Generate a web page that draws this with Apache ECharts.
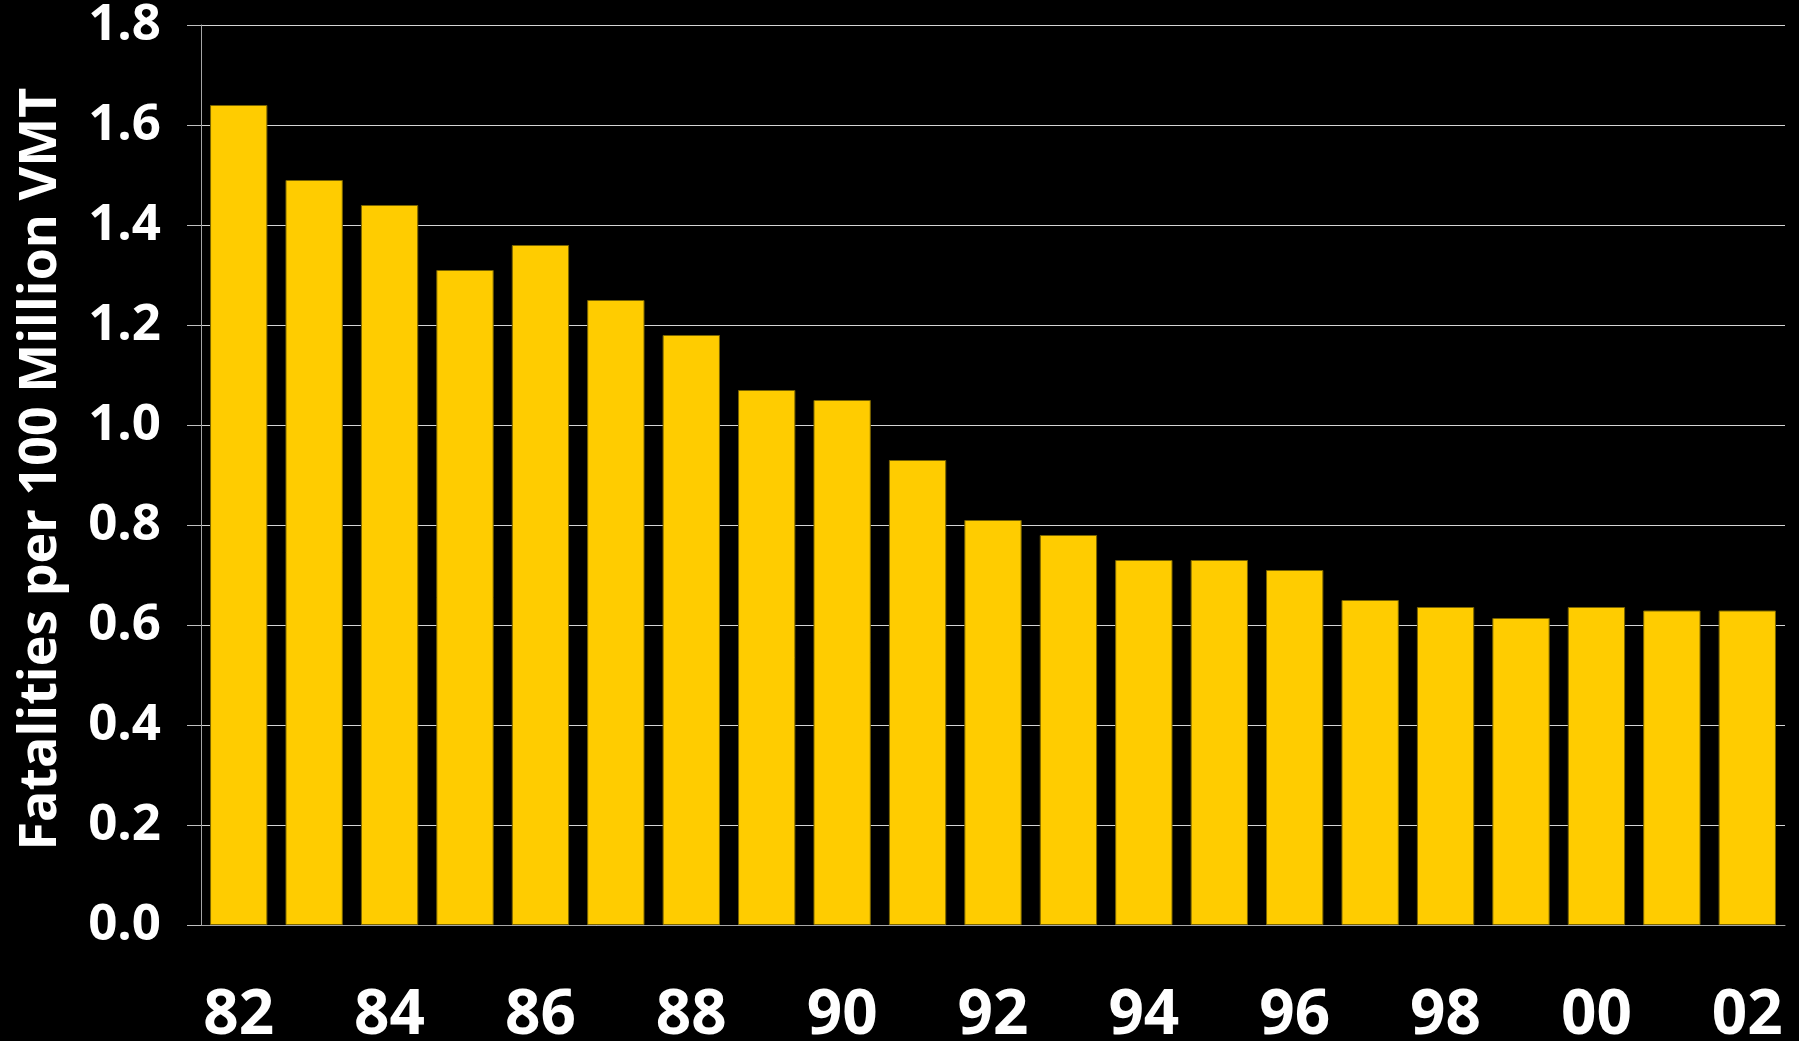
<!DOCTYPE html>
<html>
<head>
<meta charset="utf-8">
<script src="https://cdn.jsdelivr.net/npm/echarts@6/dist/echarts.min.js"></script>
<style>
  html, body { margin: 0; padding: 0; background: #000; }
  #chart { width: 1799px; height: 1041px; }
</style>
</head>
<body>
<div id="chart"></div>
<script>
// years 1982 - 2002
var years = ['82', '83', '84', '85', '86', '87', '88', '89', '90', '91', '92',
  '93', '94', '95', '96', '97', '98', '99', '00', '01', '02']
// fatalities per 100 million vehicle miles travelled
var rates = [1.64, 1.49, 1.44, 1.31, 1.36, 1.25, 1.18, 1.07, 1.05, 0.93, 0.81,
  0.78, 0.73, 0.73, 0.71, 0.65, 0.636, 0.614, 0.636, 0.629, 0.629]
var yTicks = ['0.0', '0.2', '0.4', '0.6', '0.8', '1.0', '1.2', '1.4', '1.6', '1.8']

var chart = echarts.init(document.getElementById('chart'))

var option = {
  backgroundColor: '#000',
  animation: false,
  grid: {
    left: 201,
    right: 14,
    top: 25,
    bottom: 116,
    outerBoundsMode: 'none',
    containLabel: false
  },
  xAxis: {
    type: 'category',
    data: years,
    axisLine: { lineStyle: { color: '#a6a6a6', width: 1 } },
    axisTick: {
      interval: 0,
      length: 18,
      lineStyle: { color: '#bfbfbf' }
    },
    axisLabel: {
      interval: 1,
      margin: 60,
      color: '#fff',
      fontFamily: 'Open Sans',
      fontWeight: 'bold',
      fontSize: 62
    }
  },
  yAxis: {
    type: 'value',
    min: 0,
    max: 1.8,
    interval: 0.2,
    name: 'Fatalities per 100 Million VMT',
    nameLocation: 'middle',
    nameGap: 134,
    nameTextStyle: {
      color: '#fff',
      fontFamily: 'Open Sans',
      fontWeight: 'bold',
      fontSize: 52,
      padding: [0, 0, 0, 12]
    },
    axisLine: { show: true, lineStyle: { color: '#a6a6a6', width: 1 } },
    axisTick: {
      show: true,
      length: 14,
      lineStyle: { color: '#bfbfbf' }
    },
    axisLabel: {
      margin: 40,
      color: '#fff',
      fontFamily: 'Open Sans',
      fontWeight: 'bold',
      fontSize: 51,
      formatter: function (v) {
        return yTicks[Math.round(v / 0.2)]
      }
    },
    splitLine: { lineStyle: { color: '#d4d4d4', width: 1 } }
  },
  series: [
    {
      type: 'bar',
      data: rates,
      barCategoryGap: '24%',
      itemStyle: {
        color: '#ffcc00',
        borderColor: '#7a6400',
        borderWidth: 1
      }
    }
  ]
}
chart.setOption(option)
</script>
</body>
</html>
